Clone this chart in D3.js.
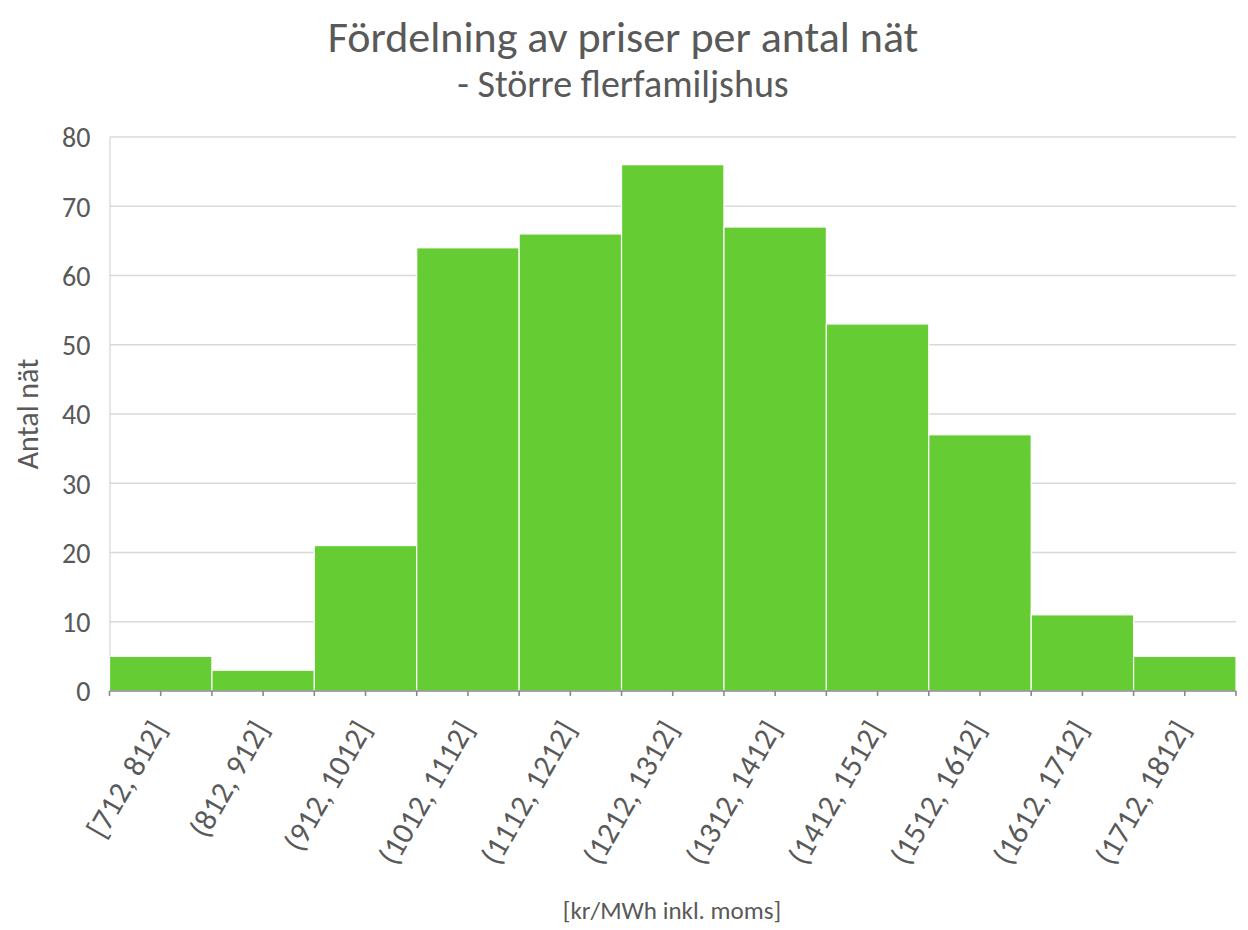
<!DOCTYPE html>
<html>
<head>
<meta charset="utf-8">
<script src="https://cdn.jsdelivr.net/npm/d3@7"></script>
<style>
  body { margin: 0; background: #fff; }
  text { font-family: Calibri, Carlito, Lato, "Open Sans", sans-serif; fill: #595959; }
</style>
</head>
<body>
<div id="plot"></div>
<script>
// data
var categories = ["[712, 812]", "(812, 912]", "(912, 1012]", "(1012, 1112]", "(1112, 1212]",
    "(1212, 1312]", "(1312, 1412]", "(1412, 1512]", "(1512, 1612]", "(1612, 1712]", "(1712, 1812]"];
var counts = [5, 3, 21, 64, 66, 76, 67, 53, 37, 11, 5];
var yTicks = [0, 10, 20, 30, 40, 50, 60, 70, 80];

var title = "Fördelning av priser per antal nät";
var subtitle = "- Större flerfamiljshus";
var yTitle = "Antal nät";
var xTitle = "[kr/MWh inkl. moms]";

// workspace
var svgWidth = 1248, svgHeight = 930;
var margin = { top: 137, right: 12, bottom: 239, left: 109.5 };
var width = svgWidth - margin.left - margin.right;
var height = svgHeight - margin.top - margin.bottom;

var svg = d3.select("#plot").append("svg")
    .attr("width", svgWidth)
    .attr("height", svgHeight);

var chartGroup = svg.append("g")
    .attr("transform", `translate(${margin.left}, ${margin.top})`);

// scales
var xScale = d3.scaleBand().domain(categories).range([0, width]).padding(0);
var yScale = d3.scaleLinear().domain([0, 80]).range([height, 0]);
var bw = xScale.bandwidth();

// gridlines
chartGroup.append("g")
    .selectAll("line")
    .data(yTicks.slice(1))
    .enter().append("line")
    .attr("x1", 0).attr("x2", width)
    .attr("y1", d => yScale(d)).attr("y2", d => yScale(d))
    .attr("stroke", "#d9d9d9").attr("stroke-width", 1.3);

// left axis (light line + labels)
var leftAxis = d3.axisLeft(yScale).tickValues(yTicks).tickSize(0).tickPadding(19);
var yAxisG = chartGroup.append("g").call(leftAxis);
yAxisG.select(".domain").attr("stroke", "#d9d9d9").attr("stroke-width", 1.3);
yAxisG.selectAll("text")
    .attr("font-size", "28px")
    .attr("dy", "0.35em")
    .style("font-family", "Calibri, Carlito, Lato, 'Open Sans', sans-serif")
    .attr("fill", "#595959");

// bars
chartGroup.append("g")
    .selectAll("rect")
    .data(counts)
    .enter().append("rect")
    .attr("x", (d, i) => xScale(categories[i]))
    .attr("y", d => yScale(d))
    .attr("width", bw)
    .attr("height", d => height - yScale(d))
    .attr("fill", "#66cc33")
    .attr("stroke", "#ffffff")
    .attr("stroke-width", 1.2);

// bottom axis: ticks at bin edges and centres
var tickPos = [];
categories.forEach(c => { tickPos.push(xScale(c)); tickPos.push(xScale(c) + bw / 2); });
tickPos.push(width);

var xAxisG = chartGroup.append("g").attr("transform", `translate(0, ${height})`);
xAxisG.append("line")
    .attr("x1", 0).attr("x2", width)
    .attr("stroke", "#898989").attr("stroke-width", 1.6);
xAxisG.selectAll("line.tick")
    .data(tickPos)
    .enter().append("line")
    .attr("class", "tick")
    .attr("x1", d => d).attr("x2", d => d)
    .attr("y1", 0).attr("y2", 5)
    .attr("stroke", "#898989").attr("stroke-width", 1.6);

// rotated category labels
xAxisG.selectAll("text.cat")
    .data(categories)
    .enter().append("text")
    .attr("class", "cat")
    .attr("text-anchor", "end")
    .attr("font-size", "31px")
    .attr("transform", d => `translate(${xScale(d) + bw / 2 + 7}, 38) rotate(-60)`)
    .text(d => d);

// titles
svg.append("text")
    .attr("x", 623).attr("y", 52)
    .attr("text-anchor", "middle")
    .attr("font-size", "44px")
    .text(title);

svg.append("text")
    .attr("x", 623).attr("y", 97)
    .attr("text-anchor", "middle")
    .attr("font-size", "38px")
    .text(subtitle);

svg.append("text")
    .attr("transform", `translate(38, ${margin.top + height / 2}) rotate(-90)`)
    .attr("text-anchor", "middle")
    .attr("font-size", "30px")
    .text(yTitle);

svg.append("text")
    .attr("x", 672).attr("y", 919)
    .attr("text-anchor", "middle")
    .attr("font-size", "25px")
    .text(xTitle);
</script>
</body>
</html>
